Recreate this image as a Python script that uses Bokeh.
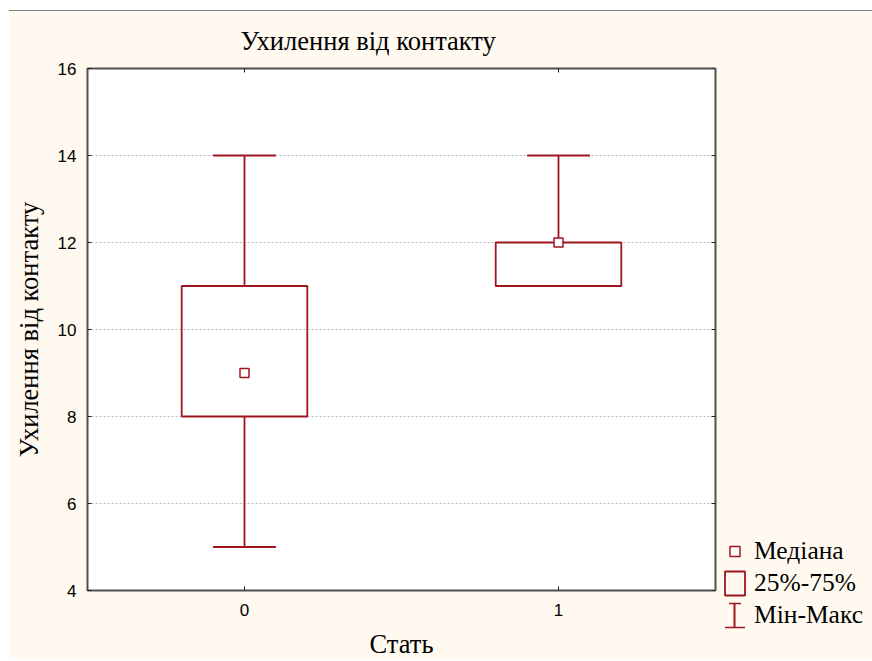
import numpy as np
from bokeh.plotting import figure
from bokeh.models import Range1d, FixedTicker, Legend, LegendItem
from bokeh.embed import file_html
from bokeh.resources import INLINE

# ---- data ----
categories = ["0", "1"]
positions = [0, 1]
medians = [9, 12]
q1 = [8, 11]
q3 = [11, 12]
mins = [5, 11]
maxs = [14, 14]
y_ticks = [4, 6, 8, 10, 12, 14, 16]
legend_labels = ["Медіана", "25%-75%", "Мін-Макс"]

CREAM = "#FFF9EF"
RED = "#A0161E"
SERIF = "Liberation Serif"
SANS = "Liberation Sans"
TICK = "#202020"

x = np.array(positions, dtype=float)
box_half = 0.2
cap_half = 0.1
X0, X1 = -0.5, 1.5
Y0, Y1 = y_ticks[0], y_ticks[-1]

W, H = 863, 650
p = figure(width=W, height=H, x_range=Range1d(X0, X1), y_range=Range1d(Y0, Y1),
           output_backend="svg", toolbar_location=None,
           min_border_left=78, min_border_right=157, min_border_top=56, min_border_bottom=71,
           background_fill_color="white", border_fill_color=CREAM)
p.margin = (10, 0, 0, 9)
p.styles = {"border-top": "1px solid #808080"}
p.outline_line_color = "#505050"
p.outline_line_width = 2

p.title.text = "Ухилення від контакту"
p.title.text_font = SERIF
p.title.text_font_size = "26.5px"
p.title.text_font_style = "normal"
p.title.text_color = "black"
p.title.align = "left"
p.title.offset = 153
p.title.standoff = 25

p.xaxis.ticker = FixedTicker(ticks=positions)
p.xaxis.major_label_overrides = {pos: lab for pos, lab in zip(positions, categories)}
p.yaxis.ticker = FixedTicker(ticks=y_ticks)
for ax in (p.xaxis[0], p.yaxis[0]):
    ax.axis_line_color = None
    ax.major_tick_in = 4
    ax.major_tick_out = 0
    ax.major_tick_line_color = TICK
    ax.minor_tick_line_color = None
    ax.major_label_text_font = SANS
    ax.major_label_text_font_size = "17px"
    ax.major_label_text_color = "black"
    ax.axis_label_text_font = SERIF
    ax.axis_label_text_font_size = "26.5px"
    ax.axis_label_text_font_style = "normal"
    ax.axis_label_text_color = "black"
p.xaxis.axis_label = "Стать"
p.yaxis.axis_label = "Ухилення від контакту"
p.yaxis.major_label_standoff = 11
p.xaxis.major_label_standoff = 13
p.yaxis.axis_label_standoff = 11
p.xaxis.axis_label_standoff = 10

p.xgrid.visible = False
p.ygrid.grid_line_color = "#B8B8B8"
p.ygrid.grid_line_dash = "2 2"
p.ygrid.grid_line_width = 1

# mirrored inner ticks on the top and right frame edges
p.scatter(x=x, y=[Y1] * len(positions), marker="dash", angle=np.pi / 2, size=8,
          line_color=TICK, line_width=1)
p.scatter(x=[X1] * len(y_ticks), y=y_ticks, marker="dash", size=8,
          line_color=TICK, line_width=1)

LW = 1.8
# whiskers
p.segment(x0=x, y0=q3, x1=x, y1=maxs, line_color=RED, line_width=LW)
p.segment(x0=x, y0=q1, x1=x, y1=mins, line_color=RED, line_width=LW)
p.segment(x0=x - cap_half, y0=maxs, x1=x + cap_half, y1=maxs, line_color=RED, line_width=LW)
p.segment(x0=x - cap_half, y0=mins, x1=x + cap_half, y1=mins, line_color=RED, line_width=LW)
# boxes
p.quad(left=x - box_half, right=x + box_half, bottom=q1, top=q3,
       fill_color="white", fill_alpha=0, line_color=RED, line_width=LW)
# medians
p.scatter(x=x, y=medians, marker="square", size=9, fill_color="white",
          line_color=RED, line_width=1.5)

# ---- legend: a small transparent figure laid over the right margin ----
# its renderers reuse the same data but lie outside its ranges, so only the
# legend icons are seen
leg = figure(width=148, height=96, x_range=Range1d(-10, -9), y_range=Range1d(-10, -9),
             output_backend="svg", toolbar_location=None, min_border=0,
             x_axis_type=None, y_axis_type=None,
             background_fill_alpha=0, border_fill_alpha=0)
leg.outline_line_color = None
leg.styles = {"position": "absolute", "left": "722px", "top": "536px"}

lm = leg.scatter(x=x, y=medians, marker="square", fill_color="white",
                 line_color=RED, line_width=1.5)
lb = leg.quad(left=x - box_half, right=x + box_half, bottom=q1, top=q3,
              fill_alpha=0, line_color=RED, line_width=LW)
# min-max icon: caps = top/bottom edges of a dashed rectangle,
# stem = one short dash of a thick horizontal line
lc = leg.quad(left=x - cap_half, right=x + cap_half, bottom=mins, top=maxs,
              fill_alpha=0, line_color=RED, line_width=1.5, line_dash="0 4 12 28 20 24")
ls = leg.segment(x0=x, y0=mins, x1=x, y1=maxs, line_color=RED, line_width=24,
                 line_dash="0 11 2 100", line_cap="butt")

legend = Legend(items=[LegendItem(label=legend_labels[0], renderers=[lm]),
                       LegendItem(label=legend_labels[1], renderers=[lb]),
                       LegendItem(label=legend_labels[2], renderers=[lc, ls])],
                location="top_left", orientation="vertical",
                glyph_width=25, glyph_height=30, label_height=30, spacing=2,
                label_standoff=7, padding=0, margin=0,
                border_line_color=None, background_fill_alpha=0,
                label_text_font=SERIF, label_text_font_size="25.5px",
                label_text_color="black")
leg.add_layout(legend)

open("out.html", "w").write(file_html([p, leg], INLINE))
